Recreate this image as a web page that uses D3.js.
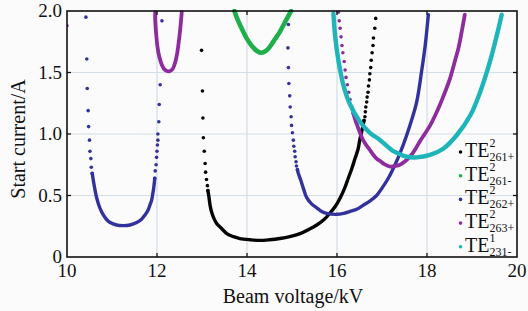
<!DOCTYPE html>
<html><head><meta charset="utf-8">
<script src="https://cdn.jsdelivr.net/npm/d3@7"></script>
<style>
html,body{margin:0;padding:0;background:#fbfbfb;}
svg{display:block;}
</style></head>
<body><svg id="c" width="528" height="311"></svg>
<script>
// ---------- data ----------
const xTicks = [10, 12, 14, 16, 18, 20];
const yTicks = [0, 0.5, 1.0, 1.5, 2.0];
const yTickLabels = ["0", "0.5", "1.0", "1.5", "2.0"];
const seriesNames = ["TE261+", "TE261-", "TE262+", "TE263+", "TE231-"];
const legendSup = ["2", "2", "2", "2", "1"];
const legendSub = ["261+", "261-", "262+", "263+", "231-"];

// TE261+ (black)
const te261pDots = [[12.99,1.68],[13.01,1.35],[13.02,1.13],[13.03,0.97],[13.05,0.86],[13.07,0.76],[13.08,0.69],[13.10,0.63],[13.12,0.58],[13.13,0.54],
  [16.60,1.11],[16.62,1.14],[16.63,1.18],[16.64,1.22],[16.66,1.26],[16.67,1.30],[16.69,1.34],[16.70,1.39],[16.72,1.44],[16.73,1.49],[16.75,1.54],[16.76,1.60],[16.78,1.66],[16.80,1.72],[16.81,1.78],[16.84,1.86],[16.86,1.94]];
const te261pTrace = [[13.13,0.54],[13.15,0.50],[13.18,0.42],[13.21,0.37],[13.27,0.31],[13.33,0.27],[13.44,0.23],[13.55,0.19],[13.70,0.165],[13.84,0.15],[14.07,0.14],[14.29,0.135],[14.50,0.14],[14.73,0.15],[14.95,0.165],[15.18,0.19],[15.38,0.225],[15.55,0.26],[15.70,0.30],[15.84,0.355],[15.96,0.41],[16.07,0.48],[16.17,0.56],[16.25,0.64],[16.33,0.72],[16.40,0.80],[16.47,0.88],[16.51,0.96],[16.55,1.02],[16.60,1.11]];

// TE261- (green)
const te261mDots = [];
const te261mTrace = [[13.72,2.0],[13.78,1.94],[13.84,1.89],[13.92,1.83],[13.99,1.78],[14.10,1.72],[14.22,1.675],[14.32,1.66],[14.42,1.675],[14.51,1.71],[14.62,1.77],[14.73,1.83],[14.83,1.90],[14.92,1.96],[14.98,2.0]];

// TE262+ (blue)
const te262pDots = [[10.42,1.95],[10.44,1.61],[10.45,1.37],[10.47,1.19],[10.48,1.06],[10.50,0.95],[10.51,0.86],[10.53,0.80],[10.54,0.73],[10.56,0.68],
  [11.95,0.64],[11.96,0.70],[11.98,0.75],[11.99,0.81],[12.00,0.86],[12.01,0.91],[12.02,0.95],[12.02,1.00],[12.04,1.10],[12.05,1.24],[12.07,1.40],[12.11,1.92],
  [14.92,1.89],[14.91,1.70],[14.92,1.54],[14.93,1.41],[14.95,1.31],[14.96,1.22],[14.98,1.14],[14.99,1.07],[15.01,1.01],[15.03,0.95],[15.04,0.90],[15.06,0.86],[15.07,0.815],[15.09,0.775],[15.10,0.74],[15.12,0.71]];
const te262pTraceA = [[10.56,0.68],[10.60,0.59],[10.66,0.48],[10.73,0.40],[10.81,0.34],[10.88,0.305],[10.96,0.28],[11.10,0.26],[11.25,0.255],[11.40,0.26],[11.55,0.28],[11.65,0.305],[11.73,0.34],[11.80,0.38],[11.84,0.42],[11.88,0.46],[11.90,0.50],[11.93,0.57],[11.95,0.64]];
const te262pTraceB = [[15.12,0.71],[15.14,0.68],[15.19,0.63],[15.26,0.55],[15.33,0.48],[15.44,0.43],[15.55,0.40],[15.66,0.37],[15.77,0.355],[15.99,0.347],[16.15,0.355],[16.29,0.37],[16.45,0.39],[16.58,0.42],[16.73,0.455],[16.88,0.50],[17.00,0.56],[17.14,0.64],[17.25,0.72],[17.35,0.80],[17.47,0.91],[17.62,1.07],[17.77,1.26],[17.88,1.51],[17.96,1.72],[18.03,1.97]];

// TE263+ (purple)
const te263pDots = [[10.0,1.88],[16.03,1.99],[16.05,1.92],[16.07,1.86],[16.09,1.79],[16.11,1.72],[16.13,1.66],[16.16,1.59],[16.18,1.52],[16.20,1.46],[16.23,1.40],[16.26,1.34],[16.29,1.28],[16.33,1.22],[16.36,1.17]];
const te263pTraceA = [[11.96,1.99],[11.96,1.93],[11.98,1.82],[12.01,1.71],[12.05,1.63],[12.11,1.56],[12.18,1.52],[12.27,1.51],[12.35,1.53],[12.41,1.59],[12.45,1.66],[12.48,1.74],[12.51,1.83],[12.55,1.99]];
const te263pTraceB = [[16.36,1.17],[16.41,1.11],[16.47,1.05],[16.58,0.95],[16.73,0.87],[16.88,0.80],[16.96,0.78],[17.05,0.755],[17.18,0.735],[17.30,0.74],[17.40,0.75],[17.52,0.78],[17.62,0.815],[17.73,0.87],[17.84,0.94],[17.95,1.00],[18.07,1.07],[18.18,1.15],[18.29,1.24],[18.40,1.34],[18.51,1.45],[18.61,1.58],[18.70,1.70],[18.77,1.83],[18.84,1.97]];

// TE231- (cyan)
const te231mDots = [];
const te231mTrace = [[15.92,1.98],[15.96,1.79],[16.03,1.60],[16.14,1.40],[16.29,1.24],[16.51,1.10],[16.73,1.01],[16.96,0.95],[17.18,0.88],[17.25,0.86],[17.40,0.835],[17.55,0.815],[17.77,0.81],[18.07,0.83],[18.36,0.88],[18.66,0.99],[18.96,1.15],[19.18,1.34],[19.40,1.59],[19.55,1.80],[19.66,1.97]];

// ---------- drawing ----------
const FONT = "'Liberation Serif', 'Times New Roman', Times, 'DejaVu Serif', serif";
const colors = ["#050505", "#1fae4c", "#32329c", "#8e2c9e", "#1db4ba"];
const widths = [3.4, 4.6, 3.4, 3.8, 4.4];
const series = [
  {dots: te261pDots, traces: [te261pTrace]},
  {dots: te261mDots, traces: [te261mTrace]},
  {dots: te262pDots, traces: [te262pTraceA, te262pTraceB]},
  {dots: te263pDots, traces: [te263pTraceA, te263pTraceB]},
  {dots: te231mDots, traces: [te231mTrace]}
];

const svg = d3.select("#c").attr("font-family", FONT);
const L = 67, R = 517, T = 11, B = 257;
const x = d3.scaleLinear().domain([10, 20]).range([L, R]);
const y = d3.scaleLinear().domain([0, 2]).range([B, T]);

// grid
const g = svg.append("g");
g.selectAll("line.gx").data(xTicks.slice(1, -1)).enter().append("line")
  .attr("x1", d => x(d)).attr("x2", d => x(d)).attr("y1", T).attr("y2", B)
  .attr("stroke", "#d3dee6").attr("stroke-width", 1.2);
g.selectAll("line.gy").data(yTicks.slice(1, -1)).enter().append("line")
  .attr("y1", d => y(d)).attr("y2", d => y(d)).attr("x1", L).attr("x2", R)
  .attr("stroke", "#d3dee6").attr("stroke-width", 1.2);

// clip
svg.append("clipPath").attr("id", "clip").append("rect")
  .attr("x", L).attr("y", T - 2).attr("width", R - L).attr("height", B - T + 2);

const plot = svg.append("g").attr("clip-path", "url(#clip)");
const line = d3.line().x(d => x(d[0])).y(d => y(d[1])).curve(d3.curveCatmullRom.alpha(0.5));
series.forEach((s, i) => {
  s.traces.forEach(tr => {
    plot.append("path").attr("d", line(tr)).attr("fill", "none")
      .attr("stroke", colors[i]).attr("stroke-width", widths[i])
      .attr("stroke-linecap", "round").attr("stroke-linejoin", "round");
  });
  plot.selectAll(null).data(s.dots).enter().append("circle")
    .attr("cx", d => x(d[0])).attr("cy", d => y(d[1])).attr("r", 1.8)
    .attr("fill", colors[i]);
});

// frame
svg.append("rect").attr("x", L).attr("y", T).attr("width", R - L).attr("height", B - T)
  .attr("fill", "none").attr("stroke", "#111").attr("stroke-width", 1.6);

// inward ticks
const tk = 4;
const ticks = svg.append("g").attr("stroke", "#111").attr("stroke-width", 1.3);
xTicks.slice(1, -1).forEach(v => {
  ticks.append("line").attr("x1", x(v)).attr("x2", x(v)).attr("y1", B).attr("y2", B - tk);
  ticks.append("line").attr("x1", x(v)).attr("x2", x(v)).attr("y1", T).attr("y2", T + tk);
});
yTicks.slice(1, -1).forEach(v => {
  ticks.append("line").attr("y1", y(v)).attr("y2", y(v)).attr("x1", L).attr("x2", L + tk);
  ticks.append("line").attr("y1", y(v)).attr("y2", y(v)).attr("x1", R).attr("x2", R - tk);
});

// tick labels
svg.selectAll("text.xt").data(xTicks).enter().append("text")
  .attr("font-family", FONT)
  .attr("x", d => x(d)).attr("y", 277).attr("text-anchor", "middle")
  .attr("font-size", 19).attr("fill", "#111").text(d => d);
svg.selectAll("text.yt").data(yTicks).enter().append("text")
  .attr("font-family", FONT)
  .attr("x", 62).attr("y", d => y(d)).attr("dy", "0.34em").attr("text-anchor", "end")
  .attr("font-size", 19).attr("fill", "#111").text((d, i) => yTickLabels[i]);

// axis titles
svg.append("text").attr("font-family", FONT).attr("x", 293).attr("y", 303).attr("text-anchor", "middle")
  .attr("font-size", 20).attr("fill", "#111").text("Beam voltage/kV");
svg.append("text").attr("font-family", FONT).attr("transform", "translate(25,139) rotate(-90)")
  .attr("text-anchor", "middle").attr("font-size", 20).attr("fill", "#111").text("Start current/A");

// legend
const leg = svg.append("g");
seriesNames.forEach((n, i) => {
  const by = 157 + i * 23.7;
  leg.append("circle").attr("cx", 460.5).attr("cy", by - 5).attr("r", 1.8).attr("fill", colors[i]);
  const t = leg.append("text").attr("font-family", FONT).attr("x", 465).attr("y", by).attr("fill", "#111");
  t.append("tspan").attr("font-size", 20).text("TE");
  t.append("tspan").attr("font-size", 12).attr("dy", -10).text(legendSup[i]);
  t.append("tspan").attr("font-size", 12).attr("dx", -6).attr("dy", 14).text(legendSub[i]);
});
</script>
</body></html>
